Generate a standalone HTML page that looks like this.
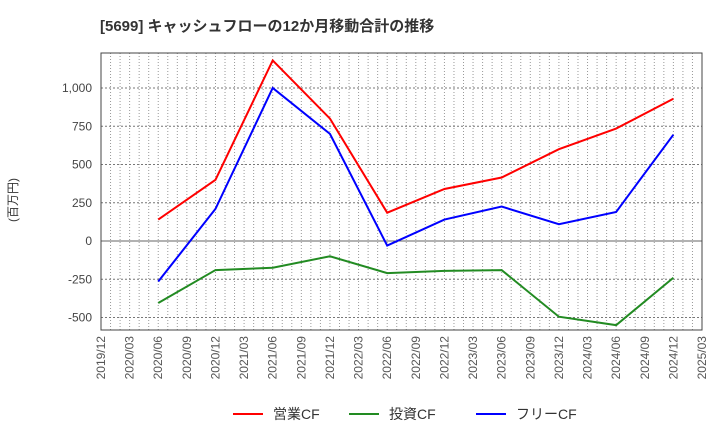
<!DOCTYPE html>
<html><head><meta charset="utf-8"><style>
body{margin:0;background:#fff;font-family:"Liberation Sans","Noto Sans CJK JP",sans-serif;}
</style></head><body>
<svg width="720" height="440" xmlns="http://www.w3.org/2000/svg">
<text x="100" y="31" font-size="15" font-weight="bold" fill="#333">[5699]  キャッシュフローの12か月移動合計の推移</text>
<text transform="translate(17,200) rotate(-90)" font-size="12" fill="#333" text-anchor="middle">(百万円)</text>
<g id="grid"></g>
<g id="axes"></g>
<g id="series"></g>
<g id="legend"></g>
</svg>
<script>
const xLabels=["2019/12","2020/03","2020/06","2020/09","2020/12","2021/03","2021/06","2021/09","2021/12","2022/03","2022/06","2022/09","2022/12","2023/03","2023/06","2023/09","2023/12","2024/03","2024/06","2024/09","2024/12","2025/03"];
const yTicks=[-500,-250,0,250,500,750,1000];
const yTickLabels=["-500","-250","0","250","500","750","1,000"];
const pointIdx=[2,4,6,8,10,12,14,16,18,20];
const opCF=[140,400,1180,800,185,340,415,600,735,930];
const invCF=[-405,-190,-175,-100,-210,-195,-190,-495,-550,-240];
const freeCF=[-265,210,1000,700,-30,140,225,110,190,695];
const seriesNames=["営業CF","投資CF","フリーCF"];
const L=101,R=702,T=53,B=330;
const NS="http://www.w3.org/2000/svg";
const xs=q=>L+q*(R-L)/21;
const ys=v=>241-v*0.153;
function mk(tag,attrs,parent){const e=document.createElementNS(NS,tag);for(const k in attrs)e.setAttribute(k,attrs[k]);parent.appendChild(e);return e;}
const grid=document.getElementById('grid'),axes=document.getElementById('axes'),ser=document.getElementById('series'),leg=document.getElementById('legend');
for(let m=1;m<63;m++){const x=L+m*(R-L)/63;
const l=mk('line',{x1:x,x2:x,y1:T,y2:B,stroke:'#999','stroke-width':1,'stroke-dasharray':'1,2'},grid);

}
yTicks.forEach((v,i)=>{const y=ys(v);
const l=mk('line',{x1:L,x2:R,y1:y,y2:y,stroke:v===0?'#666':'#777','stroke-width':1,'stroke-dasharray':v===0?'':'2,2'},grid);


const t=mk('text',{x:92,y:y+4,'font-size':12,fill:'#444','text-anchor':'end'},axes);t.textContent=yTickLabels[i];

});
const fr=mk('rect',{x:L,y:T,width:R-L,height:B-T,fill:'none',stroke:'#444','stroke-width':1},axes);


xLabels.forEach((s,i)=>{const x=xs(i);
const t=mk('text',{transform:`translate(${x+4},${B+6}) rotate(-90)`,'font-size':12,fill:'#555','text-anchor':'end'},axes);t.textContent=s;

});
const colors=["#ff0000","#228b22","#0000ff"];
[opCF,invCF,freeCF].forEach((arr,si)=>{
const p=mk('polyline',{points:arr.map((v,i)=>xs(pointIdx[i])+','+ys(v)).join(' '),fill:'none',stroke:colors[si],'stroke-width':2},ser);


const lx=[233,349,476][si];
const ll=mk('line',{x1:lx,x2:lx+30,y1:414,y2:414,stroke:colors[si],'stroke-width':2},leg);


const lt=mk('text',{x:lx+40,y:419,'font-size':14,fill:'#333'},leg);lt.textContent=seriesNames[si];

});
</script>
</body></html>
